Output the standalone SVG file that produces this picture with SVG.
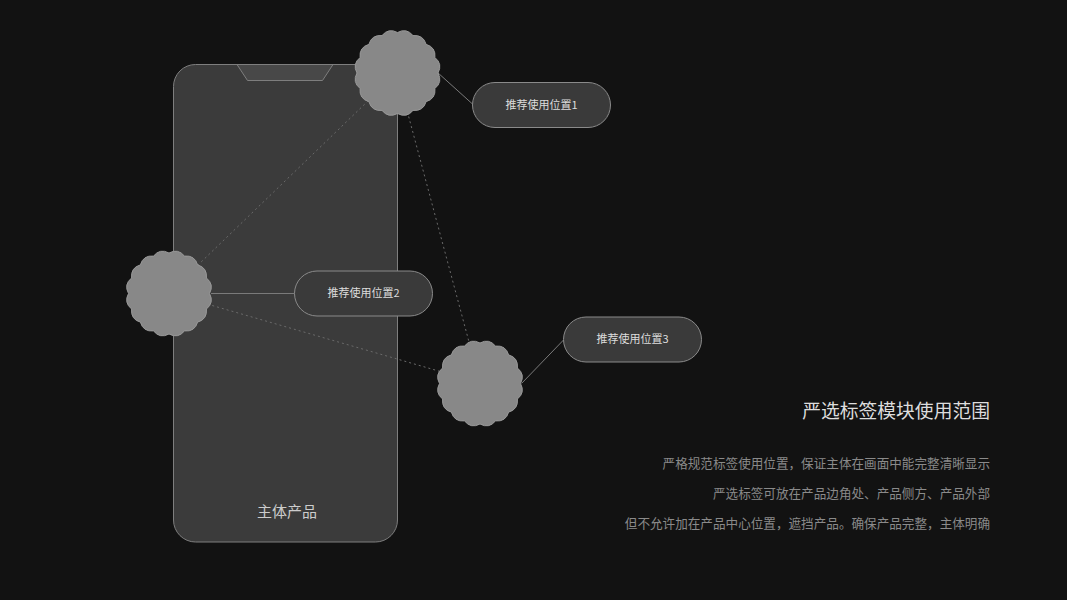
<svg xmlns="http://www.w3.org/2000/svg" xmlns:xlink="http://www.w3.org/1999/xlink" width="1067" height="600" viewBox="0 0 1067 600">
<style>
.cjk{font-family:"Noto Sans CJK SC","Noto Sans",sans-serif}
.pill{fill:#3a3a3a;stroke:#8a8a8a;stroke-width:1}
.pilltxt{font-size:11px;fill:#dddddd;text-anchor:middle}
.badge{fill:#888888;stroke:#9a9a9a;stroke-width:1;stroke-linejoin:round}
.dot{stroke:#6a6a6a;stroke-width:1;stroke-dasharray:2 3;fill:none}
.solid{stroke:#7a7a7a;stroke-width:1;fill:none}
.body{font-size:12.6px;fill:#8a8a8a;text-anchor:end}
</style>
<defs>
<path id="scallop" d="M40.5,0 Q45.41,9.03 37.42,15.50 Q38.50,25.72 28.64,28.64 Q25.72,38.50 15.50,37.42 Q9.03,45.41 0,40.5 Q-9.03,45.41 -15.50,37.42 Q-25.72,38.50 -28.64,28.64 Q-38.50,25.72 -37.42,15.50 Q-45.41,9.03 -40.5,0 Q-45.41,-9.03 -37.42,-15.50 Q-38.50,-25.72 -28.64,-28.64 Q-25.72,-38.50 -15.50,-37.42 Q-9.03,-45.41 0,-40.5 Q9.03,-45.41 15.50,-37.42 Q25.72,-38.50 28.64,-28.64 Q38.50,-25.72 37.42,-15.50 Q45.41,-9.03 40.5,0 Z"/>
</defs>
<rect x="0" y="0" width="1067" height="600" fill="#121212"/>
<g id="phone">
<rect x="173.5" y="64.5" width="224" height="477.5" rx="22" ry="22" fill="#3b3b3b" stroke="#7e7e7e" stroke-width="1"/>
<path d="M237,64.5 L247.5,80.5 L322.5,80.5 L333,64.5 Z" fill="#484848" stroke="#7e7e7e" stroke-width="1"/>
<text class="cjk" x="287" y="517" font-size="15" fill="#cccccc" text-anchor="middle">主体产品</text>
</g>
<g id="connectors">
<line class="dot" x1="397" y1="73" x2="169" y2="293"/>
<line class="dot" x1="397" y1="73" x2="480" y2="383"/>
<line class="dot" x1="169" y1="293" x2="480" y2="383"/>
<line class="solid" x1="437" y1="72" x2="472.5" y2="104"/>
<line class="solid" x1="211" y1="293.5" x2="294.5" y2="293.5"/>
<line class="solid" x1="521.5" y1="383.5" x2="563.5" y2="340"/>
</g>
<g id="badge1"><use xlink:href="#scallop" class="badge" transform="translate(397.5,73)"/></g>
<g id="badge2"><use xlink:href="#scallop" class="badge" transform="translate(169,293.5)"/></g>
<g id="badge3"><use xlink:href="#scallop" class="badge" transform="translate(480,383.5)"/></g>
<g id="pill1">
<rect class="pill" x="472.5" y="82.5" width="138" height="45" rx="22.5"/>
<text class="cjk pilltxt" x="541.5" y="108.5">推荐使用位置1</text>
</g>
<g id="pill2">
<rect class="pill" x="294.5" y="271" width="138" height="45" rx="22.5"/>
<text class="cjk pilltxt" x="363.5" y="297">推荐使用位置2</text>
</g>
<g id="pill3">
<rect class="pill" x="563.5" y="317" width="138" height="45" rx="22.5"/>
<text class="cjk pilltxt" x="632.5" y="343">推荐使用位置3</text>
</g>
<g id="description">
<text class="cjk" x="990" y="418" font-size="18.8" fill="#dddddd" text-anchor="end">严选标签模块使用范围</text>
<text class="cjk body" x="990" y="468">严格规范标签使用位置，保证主体在画面中能完整清晰显示</text>
<text class="cjk body" x="990" y="498">严选标签可放在产品边角处、产品侧方、产品外部</text>
<text class="cjk body" x="990" y="528">但不允许加在产品中心位置，遮挡产品。确保产品完整，主体明确</text>
</g>
</svg>
